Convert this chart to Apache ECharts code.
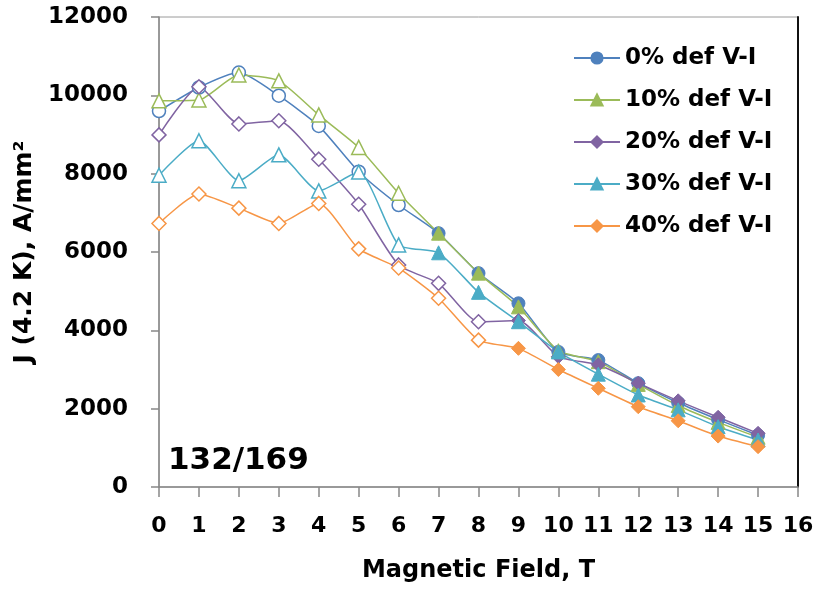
<!DOCTYPE html>
<html>
<head>
<meta charset="utf-8">
<script src="https://cdn.jsdelivr.net/npm/echarts@6/dist/echarts.min.js"></script>
<style>
  html, body {margin: 0; padding: 0; background: #fff;}
  #chart {width: 829px; height: 590px;}
</style>
</head>
<body>
<div id="chart"></div>
<script>
// magnetic field, T
const fields = [0, 1, 2, 3, 4, 5, 6, 7, 8, 9, 10, 11, 12, 13, 14, 15];
const xTicks = [0, 16, 1];
const yTicks = [0, 12000, 2000];

// J (4.2 K), A/mm2
const def0 = [9600, 10200, 10580, 9990, 9220, 8050, 7200, 6480, 5460, 4690, 3450, 3240, 2650, 2150, 1720, 1320];
const def10 = [9860, 9880, 10520, 10370, 9500, 8670, 7500, 6480, 5460, 4600, 3480, 3200, 2620, 2080, 1650, 1270];
const def20 = [8990, 10220, 9270, 9350, 8370, 7220, 5670, 5200, 4220, 4250, 3330, 3120, 2650, 2200, 1780, 1370];
const def30 = [7960, 8840, 7820, 8480, 7560, 8040, 6180, 5980, 4970, 4220, 3450, 2880, 2350, 1970, 1540, 1200];
const def40 = [6730, 7480, 7120, 6730, 7240, 6080, 5590, 4820, 3750, 3540, 3000, 2520, 2050, 1690, 1300, 1030];

const names = ['0% def V-I', '10% def V-I', '20% def V-I', '30% def V-I', '40% def V-I'];
const values = [def0, def10, def20, def30, def40];

// style only
const colors = ['#4F81BD', '#9BBB59', '#8064A2', '#4BACC6', '#F79646'];
const symbols = ['circle', 'triangle', 'diamond', 'triangle', 'diamond'];
const sizes = [13, 14, 14, 14, 14];
const firstFilled = [7, 7, 9, 7, 9]; // points before this index are hollow

const font = 'DejaVu Sans';

const series = names.map((name, i) => ({
    name: name,
    type: 'line',
    smooth: 0.2,
    symbol: symbols[i],
    symbolSize: sizes[i],
    color: colors[i],
    lineStyle: {color: colors[i], width: 1.5},
    itemStyle: {color: colors[i], borderColor: colors[i], borderWidth: 1},
    data: fields.map((f, k) => k < firstFilled[i]
        ? {value: [f, values[i][k]], itemStyle: {color: '#fff', borderColor: colors[i], borderWidth: 1.5}}
        : {value: [f, values[i][k]]}),
}));

const chart = echarts.init(document.getElementById('chart'));
chart.setOption({
    animation: false,
    backgroundColor: '#fff',
    grid: {left: 159, right: 31, top: 17, bottom: 103, show: true, borderColor: '#9a9a9a', borderWidth: 1},
    legend: {
        orient: 'vertical',
        left: 573,
        top: 44,
        padding: 0,
        itemWidth: 46,
        itemHeight: 14,
        itemGap: 14,
        textStyle: {fontFamily: font, fontWeight: 'bold', fontSize: 23, color: '#000', lineHeight: 28},
        data: names,
    },
    xAxis: {
        type: 'value',
        min: xTicks[0], max: xTicks[1], interval: xTicks[2],
        name: 'Magnetic Field, T',
        nameLocation: 'middle',
        nameGap: 72,
        nameTextStyle: {fontFamily: font, fontWeight: 'bold', fontSize: 24, color: '#000'},
        axisLine: {lineStyle: {color: '#888', width: 1.5}},
        axisTick: {length: 10, lineStyle: {color: '#888', width: 1.5}},
        axisLabel: {fontFamily: font, fontWeight: 'bold', fontSize: 22, color: '#000', margin: 28},
        splitLine: {show: false},
    },
    yAxis: [{
        type: 'value',
        min: yTicks[0], max: yTicks[1], interval: yTicks[2],
        name: 'J (4.2 K), A/mm²',
        nameLocation: 'middle',
        nameGap: 112,
        nameTextStyle: {fontFamily: font, fontWeight: 'bold', fontSize: 25, color: '#000'},
        axisLine: {show: true, lineStyle: {color: '#888', width: 1.5}},
        axisTick: {show: true, length: 8, lineStyle: {color: '#888', width: 1.5}},
        axisLabel: {fontFamily: font, fontWeight: 'bold', fontSize: 23, color: '#000', margin: 31,
            formatter: v => String(v)},
        splitLine: {show: false},
    }, {
        type: 'value',
        position: 'right',
        min: yTicks[0], max: yTicks[1], interval: yTicks[2],
        axisLine: {show: true, lineStyle: {color: '#111', width: 2}},
        axisTick: {show: false},
        axisLabel: {show: false},
        splitLine: {show: false},
    }],
    graphic: [{
        type: 'text',
        left: 168,
        top: 445,
        style: {text: '132/169', fontFamily: font, fontWeight: 'bold', fontSize: 31, fill: '#000'},
    }],
    series: series,
});
</script>
</body>
</html>
